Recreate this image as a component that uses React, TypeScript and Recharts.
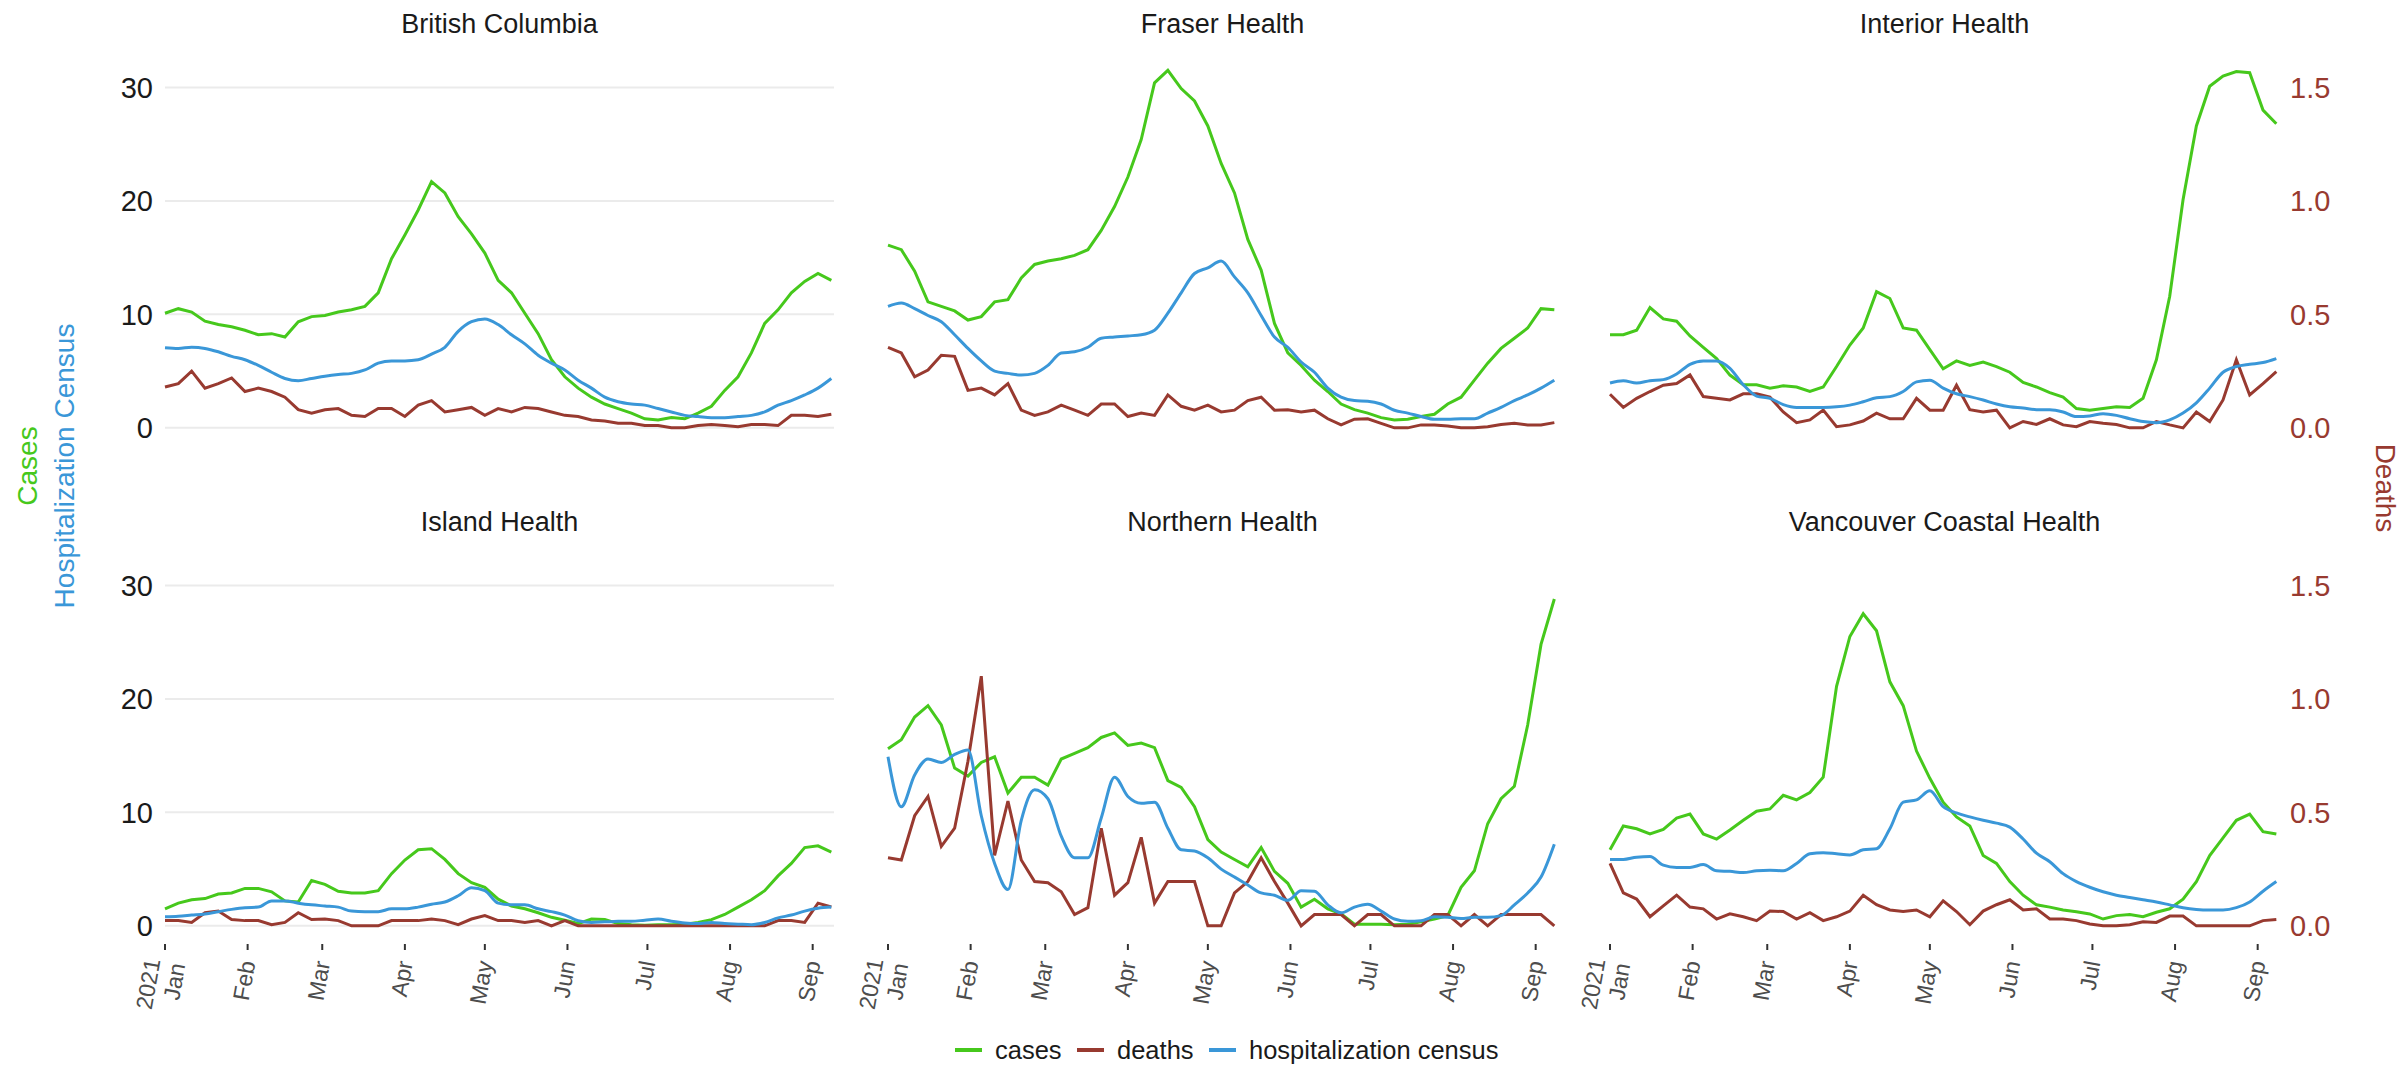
import { LineChart, Line, XAxis, YAxis, CartesianGrid } from 'recharts';

// day of year (0 = 2021-01-01)
const DAYS = [
  0, 5, 10, 15, 20, 25, 30, 35, 40, 45, 50, 55, 60, 65, 70, 75, 80, 85, 90, 95,
  100, 105, 110, 115, 120, 125, 130, 135, 140, 145, 150, 155, 160, 165, 170, 175,
  180, 185, 190, 195, 200, 205, 210, 215, 220, 225, 230, 235, 240, 245, 250,
];

const MONTH_TICKS = [0, 31, 59, 90, 120, 151, 181, 212, 243];
const MONTH_LABELS = ['2021\nJan', 'Feb', 'Mar', 'Apr', 'May', 'Jun', 'Jul', 'Aug', 'Sep'];
const LEFT_TICKS = [0, 10, 20, 30];
const RIGHT_TICKS = [0, 0.5, 1, 1.5];

const REGIONS = [
  'British Columbia',
  'Fraser Health',
  'Interior Health',
  'Island Health',
  'Northern Health',
  'Vancouver Coastal Health',
];

const BC_CASES = [10.1, 10.5, 10.2, 9.4, 9.1, 8.9, 8.6, 8.2, 8.3, 8.0, 9.35, 9.8, 9.9, 10.2, 10.4, 10.7, 11.9, 14.9, 17.0, 19.2, 21.7, 20.7, 18.6, 17.1, 15.4, 13.0, 11.9, 10.1, 8.3, 6.0, 4.5, 3.5, 2.7, 2.1, 1.7, 1.3, 0.8, 0.7, 0.9, 0.8, 1.3, 1.9, 3.3, 4.5, 6.6, 9.2, 10.4, 11.9, 12.9, 13.6, 13.0];
const BC_DEATHS = [0.18, 0.195, 0.25, 0.175, 0.195, 0.22, 0.16, 0.175, 0.16, 0.135, 0.08, 0.065, 0.08, 0.085, 0.055, 0.05, 0.085, 0.085, 0.05, 0.1, 0.12, 0.07, 0.08, 0.09, 0.055, 0.085, 0.07, 0.09, 0.085, 0.07, 0.055, 0.05, 0.035, 0.03, 0.02, 0.02, 0.01, 0.01, 0, 0, 0.01, 0.015, 0.01, 0.005, 0.015, 0.015, 0.01, 0.055, 0.055, 0.05, 0.06];
const BC_HOSP = [7.06, 7.0, 7.1, 7.0, 6.7, 6.3, 6.0, 5.5, 4.9, 4.35, 4.15, 4.35, 4.55, 4.7, 4.8, 5.1, 5.7, 5.9, 5.9, 6.0, 6.5, 7.1, 8.5, 9.35, 9.6, 9.1, 8.2, 7.4, 6.4, 5.7, 5.1, 4.2, 3.5, 2.7, 2.3, 2.1, 2.0, 1.7, 1.4, 1.1, 1.0, 0.9, 0.9, 1.0, 1.1, 1.4, 2.0, 2.4, 2.9, 3.5, 4.35];

const FH_CASES = [16.1, 15.7, 13.8, 11.1, 10.7, 10.3, 9.5, 9.8, 11.1, 11.3, 13.2, 14.4, 14.7, 14.9, 15.2, 15.7, 17.4, 19.5, 22.1, 25.4, 30.4, 31.5, 29.9, 28.8, 26.6, 23.3, 20.7, 16.6, 13.9, 9.2, 6.6, 5.5, 4.2, 3.2, 2.1, 1.6, 1.3, 0.9, 0.7, 0.75, 1.0, 1.2, 2.1, 2.7, 4.2, 5.7, 7.0, 7.9, 8.8, 10.5, 10.4];
const FH_DEATHS = [0.355, 0.33, 0.225, 0.255, 0.32, 0.315, 0.165, 0.175, 0.145, 0.195, 0.078, 0.055, 0.07, 0.1, 0.078, 0.055, 0.105, 0.105, 0.05, 0.065, 0.055, 0.145, 0.095, 0.078, 0.1, 0.07, 0.078, 0.12, 0.135, 0.078, 0.08, 0.07, 0.078, 0.04, 0.013, 0.038, 0.04, 0.02, 0, 0, 0.013, 0.013, 0.008, 0, 0, 0.005, 0.015, 0.02, 0.013, 0.013, 0.023];
const FH_HOSP = [10.7, 11.0, 10.5, 9.9, 9.35, 8.2, 7.0, 5.9, 5.0, 4.8, 4.65, 4.8, 5.5, 6.6, 6.7, 7.1, 7.9, 8.0, 8.1, 8.2, 8.6, 10.1, 11.9, 13.6, 14.1, 14.7, 13.3, 11.9, 9.9, 8.0, 7.1, 5.8, 4.9, 3.5, 2.7, 2.4, 2.35, 2.1, 1.55, 1.3, 1.0, 0.75, 0.75, 0.8, 0.8, 1.3, 1.8, 2.4, 2.9, 3.5, 4.2];

const IH_CASES = [8.2, 8.2, 8.6, 10.6, 9.6, 9.4, 8.1, 7.1, 6.1, 4.65, 3.8, 3.8, 3.5, 3.7, 3.6, 3.2, 3.6, 5.4, 7.3, 8.8, 12.0, 11.4, 8.8, 8.6, 6.9, 5.2, 5.9, 5.5, 5.8, 5.4, 4.9, 4.0, 3.6, 3.1, 2.7, 1.7, 1.55, 1.7, 1.85, 1.8, 2.6, 6.0, 11.6, 20.1, 26.6, 30.1, 31.0, 31.4, 31.3, 28.0, 26.8];
const IH_DEATHS = [0.148, 0.09, 0.13, 0.16, 0.188, 0.195, 0.233, 0.138, 0.13, 0.123, 0.15, 0.15, 0.135, 0.07, 0.023, 0.035, 0.078, 0.005, 0.013, 0.03, 0.065, 0.04, 0.04, 0.13, 0.078, 0.078, 0.188, 0.08, 0.07, 0.078, 0, 0.028, 0.015, 0.04, 0.013, 0.005, 0.028, 0.02, 0.015, 0, 0, 0.028, 0.013, 0, 0.07, 0.028, 0.123, 0.3, 0.145, 0.195, 0.248];
const IH_HOSP = [3.95, 4.15, 3.95, 4.15, 4.25, 4.75, 5.6, 5.9, 5.9, 5.25, 3.8, 2.8, 2.6, 2.05, 1.8, 1.8, 1.8, 1.85, 2.0, 2.3, 2.65, 2.75, 3.2, 4.05, 4.2, 3.5, 3.0, 2.75, 2.45, 2.1, 1.85, 1.75, 1.6, 1.6, 1.4, 1.0, 1.05, 1.25, 1.1, 0.8, 0.55, 0.45, 0.7, 1.3, 2.2, 3.5, 4.9, 5.4, 5.6, 5.75, 6.1];

const ISL_CASES = [1.5, 2.0, 2.3, 2.4, 2.8, 2.9, 3.3, 3.3, 3.0, 2.2, 2.1, 4.0, 3.65, 3.05, 2.9, 2.9, 3.1, 4.6, 5.8, 6.7, 6.8, 5.85, 4.6, 3.8, 3.4, 2.35, 1.75, 1.5, 1.15, 0.75, 0.5, 0.2, 0.6, 0.55, 0.2, 0.1, 0.05, 0.1, 0.1, 0.15, 0.3, 0.55, 1.0, 1.65, 2.3, 3.1, 4.4, 5.5, 6.9, 7.05, 6.5];
const ISL_DEATHS = [0.023, 0.023, 0.015, 0.058, 0.065, 0.028, 0.023, 0.023, 0.005, 0.015, 0.058, 0.028, 0.03, 0.023, 0, 0, 0, 0.023, 0.023, 0.023, 0.03, 0.023, 0.005, 0.03, 0.045, 0.023, 0.023, 0.015, 0.023, 0, 0.023, 0, 0, 0, 0, 0, 0, 0, 0, 0, 0, 0, 0, 0, 0, 0, 0.023, 0.023, 0.015, 0.1, 0.083];
const ISL_HOSP = [0.8, 0.85, 0.95, 1.05, 1.25, 1.45, 1.6, 1.65, 2.2, 2.2, 2.0, 1.85, 1.75, 1.65, 1.3, 1.25, 1.25, 1.5, 1.5, 1.65, 1.9, 2.1, 2.65, 3.35, 3.1, 2.0, 1.85, 1.85, 1.5, 1.25, 0.95, 0.45, 0.3, 0.35, 0.4, 0.4, 0.5, 0.6, 0.4, 0.25, 0.2, 0.3, 0.2, 0.15, 0.1, 0.3, 0.7, 0.95, 1.3, 1.55, 1.65];

const NH_CASES = [15.6, 16.4, 18.4, 19.4, 17.7, 13.9, 13.2, 14.4, 14.9, 11.7, 13.1, 13.1, 12.4, 14.7, 15.2, 15.7, 16.6, 17.0, 15.9, 16.1, 15.7, 12.8, 12.2, 10.5, 7.6, 6.5, 5.85, 5.2, 6.9, 4.8, 3.75, 1.65, 2.35, 1.5, 1.05, 0.15, 0.15, 0.15, 0.1, 0.15, 0.35, 0.6, 0.9, 3.4, 4.85, 9.0, 11.2, 12.3, 17.7, 24.8, 28.8];
const NH_DEATHS = [0.3, 0.29, 0.485, 0.57, 0.35, 0.43, 0.725, 1.1, 0.31, 0.55, 0.29, 0.195, 0.19, 0.15, 0.05, 0.08, 0.43, 0.135, 0.19, 0.39, 0.1, 0.195, 0.195, 0.195, 0, 0, 0.145, 0.195, 0.3, 0.195, 0.1, 0, 0.05, 0.05, 0.05, 0, 0.05, 0.05, 0, 0, 0, 0.05, 0.05, 0, 0.05, 0, 0.05, 0.05, 0.05, 0.05, 0];
const NH_HOSP = [14.9, 10.5, 13.3, 14.7, 14.4, 15.1, 15.5, 9.7, 5.5, 3.2, 9.3, 12.0, 11.2, 7.9, 6.0, 6.0, 9.5, 13.1, 11.4, 10.8, 10.9, 8.6, 6.7, 6.6, 6.0, 5.0, 4.3, 3.6, 2.9, 2.7, 2.25, 3.1, 3.05, 1.85, 1.15, 1.65, 1.9, 1.3, 0.6, 0.4, 0.45, 0.8, 0.75, 0.65, 0.75, 0.75, 0.9, 1.85, 2.9, 4.3, 7.2];

const VCH_CASES = [6.7, 8.8, 8.55, 8.1, 8.5, 9.5, 9.85, 8.1, 7.65, 8.45, 9.3, 10.1, 10.3, 11.5, 11.1, 11.75, 13.1, 21.1, 25.5, 27.5, 26.0, 21.5, 19.4, 15.4, 13.0, 10.9, 9.6, 8.8, 6.2, 5.5, 3.9, 2.7, 1.85, 1.65, 1.4, 1.25, 1.05, 0.6, 0.9, 1.0, 0.8, 1.2, 1.5, 2.35, 3.9, 6.2, 7.75, 9.3, 9.85, 8.3, 8.1];
const VCH_DEATHS = [0.275, 0.145, 0.118, 0.04, 0.088, 0.135, 0.083, 0.075, 0.03, 0.053, 0.04, 0.023, 0.065, 0.063, 0.03, 0.058, 0.023, 0.04, 0.065, 0.135, 0.093, 0.07, 0.063, 0.07, 0.04, 0.11, 0.063, 0.005, 0.065, 0.093, 0.115, 0.07, 0.075, 0.03, 0.03, 0.023, 0.008, 0, 0, 0.005, 0.018, 0.015, 0.043, 0.043, 0, 0, 0, 0, 0, 0.023, 0.028];
const VCH_HOSP = [5.85, 5.85, 6.05, 6.1, 5.35, 5.15, 5.15, 5.4, 4.85, 4.8, 4.7, 4.85, 4.9, 4.85, 5.5, 6.35, 6.45, 6.35, 6.25, 6.7, 6.8, 8.55, 10.9, 11.1, 11.9, 10.5, 9.95, 9.6, 9.3, 9.05, 8.7, 7.65, 6.4, 5.65, 4.6, 3.9, 3.4, 3.0, 2.7, 2.5, 2.3, 2.1, 1.85, 1.6, 1.45, 1.4, 1.4, 1.6, 2.1, 3.05, 3.9];

const SERIES = [
  [BC_CASES, BC_DEATHS, BC_HOSP],
  [FH_CASES, FH_DEATHS, FH_HOSP],
  [IH_CASES, IH_DEATHS, IH_HOSP],
  [ISL_CASES, ISL_DEATHS, ISL_HOSP],
  [NH_CASES, NH_DEATHS, NH_HOSP],
  [VCH_CASES, VCH_DEATHS, VCH_HOSP],
];

const GREEN = '#46c81c';
const RED = '#983a30';
const BLUE = '#3a97d8';
const FONT = "'Liberation Sans', Arial, Helvetica, sans-serif";

const COL_X = [165, 888, 1610];
const ROW_Y = [0, 498];
const PLOT_W = 669;
const PLOT_TOP = 42;
const PLOT_H = 404;
const AXIS_W = 100;
const X_AXIS_H = 116;

const buildRows = (i: number) =>
  DAYS.map((day, k) => ({
    day,
    cases: SERIES[i][0][k],
    deaths: SERIES[i][1][k],
    hosp: SERIES[i][2][k],
  }));

const MonthTick = (props: any) => {
  const { x, y, payload } = props;
  const label = MONTH_LABELS[MONTH_TICKS.indexOf(payload.value)] || '';
  const lines = label.split('\n');
  return (
    <g transform={`translate(${x},${y + 9}) rotate(-80)`}>
      <text textAnchor="end" fill="#4d4d4d" fontSize={23} dominantBaseline="central">
        {lines.length > 1
          ? lines.map((l, i) => (
              <tspan key={i} x={0} dy={i === 0 ? '-0.55em' : '1.1em'}>
                {l}
              </tspan>
            ))
          : lines[0]}
      </text>
    </g>
  );
};

const Panel = ({ index }: { index: number }) => {
  const col = index % 3;
  const row = Math.floor(index / 3);
  const bottom = row === 1;
  const height = PLOT_TOP + PLOT_H + (bottom ? X_AXIS_H : 5);
  return (
    <div style={{ position: 'absolute', left: COL_X[col] - AXIS_W, top: ROW_Y[row] }}>
      <LineChart
        width={PLOT_W + AXIS_W * 2}
        height={height}
        data={buildRows(index)}
        margin={{ top: PLOT_TOP, right: 0, bottom: bottom ? 0 : 5, left: 0 }}
      >
        <CartesianGrid
          yAxisId="left"
          vertical={false}
          horizontalValues={LEFT_TICKS}
          stroke="#ebebeb"
          strokeWidth={2}
        />
        <XAxis
          dataKey="day"
          type="number"
          domain={[0, 251]}
          ticks={MONTH_TICKS}
          hide={!bottom}
          height={X_AXIS_H}
          axisLine={false}
          tickLine={{ stroke: '#333', strokeWidth: 2 }}
          tickSize={6}
          interval={0}
          tick={<MonthTick />}
        />
        <YAxis
          yAxisId="left"
          width={AXIS_W}
          domain={[-1.6, 34]}
          allowDataOverflow
          ticks={LEFT_TICKS}
          axisLine={false}
          tickLine={false}
          tickSize={6}
          tickMargin={6}
          tick={col === 0 ? { fontSize: 29, fill: '#1a1a1a' } : false}
        />
        <YAxis
          yAxisId="right"
          orientation="right"
          width={AXIS_W}
          domain={[-0.08, 1.7]}
          allowDataOverflow
          ticks={RIGHT_TICKS}
          tickFormatter={(v: number) => v.toFixed(1)}
          axisLine={false}
          tickLine={false}
          tickSize={6}
          tickMargin={5}
          tick={col === 2 ? { fontSize: 29, fill: RED } : false}
        />
        <Line yAxisId="left" dataKey="cases" stroke={GREEN} strokeWidth={3} dot={false} type="linear" isAnimationActive={false} />
        <Line yAxisId="right" dataKey="deaths" stroke={RED} strokeWidth={3} dot={false} type="linear" isAnimationActive={false} />
        <Line yAxisId="left" dataKey="hosp" stroke={BLUE} strokeWidth={3} dot={false} type="monotone" isAnimationActive={false} />
      </LineChart>
    </div>
  );
};

const LEGEND = [
  { label: 'cases', color: GREEN, x: 955 },
  { label: 'deaths', color: RED, x: 1077 },
  { label: 'hospitalization census', color: BLUE, x: 1209 },
];

const App = () => {
  return (
    <div
      style={{
        position: 'absolute',
        left: 0,
        top: 0,
        width: 2408,
        height: 1067,
        background: '#fff',
        fontFamily: FONT,
        overflow: 'hidden',
      }}
    >
      {REGIONS.map((_, i) => (
        <Panel key={i} index={i} />
      ))}
      <svg width={2408} height={1067} style={{ position: 'absolute', left: 0, top: 0, pointerEvents: 'none' }}>
        {REGIONS.map((name, i) => (
          <text
            key={name}
            x={COL_X[i % 3] + PLOT_W / 2}
            y={i < 3 ? 23.5 : 521.5}
            textAnchor="middle"
            dominantBaseline="central"
            fontSize={27}
            fill="#1a1a1a"
          >
            {name}
          </text>
        ))}
        <text transform="translate(27,466) rotate(-90)" textAnchor="middle" dominantBaseline="central" fontSize={28} fill={GREEN}>
          Cases
        </text>
        <text transform="translate(64,466) rotate(-90)" textAnchor="middle" dominantBaseline="central" fontSize={28} fill={BLUE}>
          Hospitalization Census
        </text>
        <text transform="translate(2385,488) rotate(90)" textAnchor="middle" dominantBaseline="central" fontSize={28} fill={RED}>
          Deaths
        </text>
        {LEGEND.map((item) => (
          <g key={item.label}>
            <line x1={item.x} x2={item.x + 27} y1={1050} y2={1050} stroke={item.color} strokeWidth={4} />
            <text x={item.x + 40} y={1050} dominantBaseline="central" fontSize={25.5} fill="#1a1a1a">
              {item.label}
            </text>
          </g>
        ))}
      </svg>
    </div>
  );
};

export default App;
